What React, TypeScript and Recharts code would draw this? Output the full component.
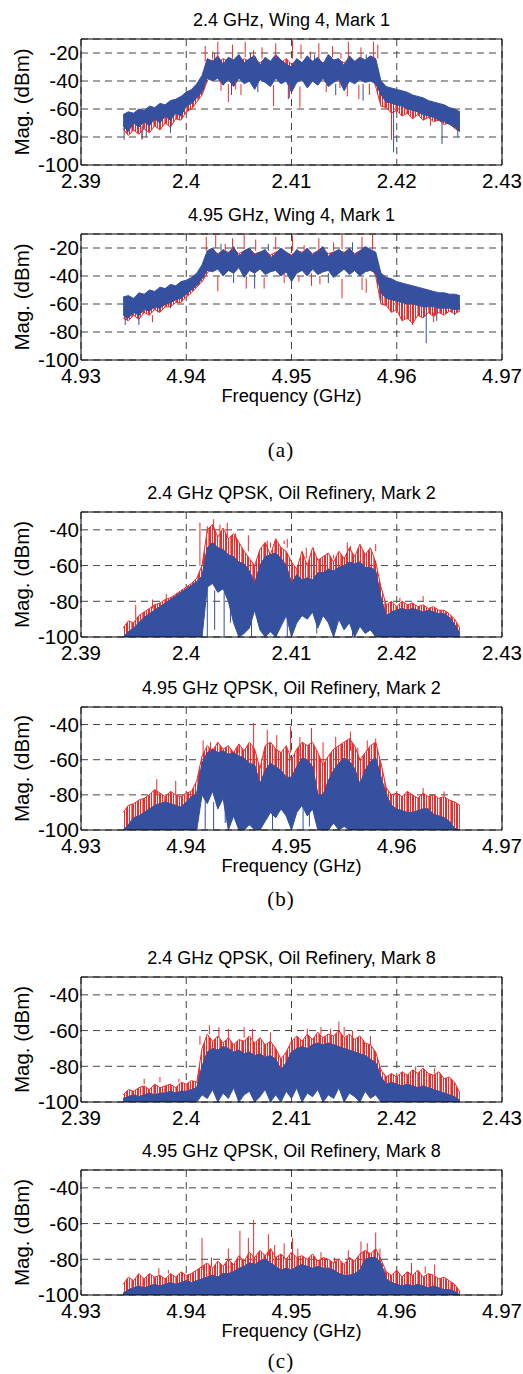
import React from "react";
import {
  ComposedChart,
  Area,
  XAxis,
  YAxis,
  CartesianGrid,
  ReferenceLine,
  ReferenceArea,
  Label,
} from "recharts";

const BLUE = "#34509f";
const RED = "#ee2b2b";
const SANS = '"Liberation Sans", Arial, Helvetica, sans-serif';
const SERIF = '"Liberation Serif", "Times New Roman", serif';

const PAGE_W = 523;
const PLOT_LEFT = 81;
const PLOT_RIGHT = 502;
const Y_AXIS_W = 60;
const TOP_PAD = 10;

// 0.5 MHz bins around the carrier (MHz)
const offsetsMHz = [
  -16, -15.5, -15, -14.5, -14, -13.5, -13, -12.5, -12, -11.5, -11, -10.5, -10,
  -9.5, -9, -8.5, -8, -7.5, -7, -6.5, -6, -5.5, -5, -4.5, -4, -3.5, -3, -2.5,
  -2, -1.5, -1, -0.5, 0, 0.5, 1, 1.5, 2, 2.5, 3, 3.5, 4, 4.5, 5, 5.5, 6, 6.5,
  7, 7.5, 8, 8.5, 9, 9.5, 10, 10.5, 11, 11.5, 12, 12.5, 13, 13.5, 14, 14.5,
  15, 15.5, 16,
];

const ticks24 = [2.39, 2.4, 2.41, 2.42, 2.43];
const ticks495 = [4.93, 4.94, 4.95, 4.96, 4.97];
const magTicksWing = [-100, -80, -60, -40, -20];
const magTicksQpsk = [-100, -80, -60, -40];

type Spike = [number, number, number]; // freq (GHz), from, to (dBm)

// ---- (a) 2.4 GHz, Wing 4, Mark 1
const p1BlueHi = [
  -64, -62, -63, -60, -61, -58, -59, -56, -57, -54, -53, -51, -48, -46, -42, -36, -24,
  -26, -22, -28, -23, -25, -21, -27, -24, -22, -29, -23, -26, -21, -25, -28,
  -30,
  -24, -27, -22, -26, -23, -28, -21, -25, -24, -29, -22, -26, -23, -25, -22,
  -24, -40, -44, -45, -46, -47, -48, -50, -51, -52, -54, -55, -56, -57, -59, -60, -62,
];
const p1BlueLo = [
  -72, -76, -70, -73, -69, -72, -67, -70, -65, -68, -63, -65, -58, -56, -52, -48, -38,
  -40, -38, -43, -39, -44, -38, -42, -40, -46, -39, -41, -44, -38, -42, -40,
  -48,
  -41, -39, -45, -40, -43, -38, -44, -41, -39, -47, -40, -42, -39, -41, -40,
  -42, -50, -55, -56, -57, -58, -60, -61, -62, -64, -65, -66, -68, -69, -71, -73, -76,
];
const p1RedHi = [
  -66, -64, -65, -63, -63, -61, -61, -59, -59, -57, -56, -55, -52, -50, -46, -40, -26,
  -25, -27, -24, -26, -25, -27, -24, -26, -25, -27, -24, -26, -25, -27, -24,
  -28,
  -25, -27, -24, -26, -25, -27, -24, -26, -25, -27, -24, -26, -25, -27, -24,
  -26, -44, -48, -49, -50, -51, -52, -53, -54, -55, -56, -57, -58, -59, -60, -62, -64,
];
const p1RedLo = [
  -74, -79, -75, -78, -74, -77, -72, -75, -70, -73, -67, -68, -62, -60, -55, -50, -40,
  -34, -34, -34, -34, -34, -34, -34, -34, -34, -34, -34, -34, -34, -34, -34,
  -34,
  -34, -34, -34, -34, -34, -34, -34, -34, -34, -34, -34, -34, -34, -34, -34,
  -44, -58, -59, -63, -61, -65, -63, -67, -64, -68, -66, -69, -68, -71, -70, -74, -76,
];
const p1RedSpikes: Spike[] = [
  [2.4018, -26, -15], [2.4025, -24, -19], [2.403, -24, -12], [2.4044, -24, -14],
  [2.4056, -23, -12], [2.4064, -24, -18], [2.4072, -24, -16], [2.4085, -24, -13],
  [2.4101, -24, -11], [2.4109, -24, -14], [2.4118, -24, -19], [2.4126, -24, -13],
  [2.4139, -23, -15], [2.4147, -24, -20], [2.4154, -24, -12], [2.4166, -24, -16],
  [2.4178, -24, -12], [2.4182, -24, -14],
  [2.4033, -40, -47], [2.404, -42, -55], [2.4047, -40, -46], [2.4052, -42, -50],
  [2.4083, -43, -58], [2.4098, -42, -52], [2.4108, -44, -59], [2.4133, -42, -48],
  [2.4146, -40, -45], [2.4153, -43, -51], [2.4164, -43, -53], [2.4174, -42, -50],
  [2.3958, -76, -82], [2.4195, -60, -82], [2.4232, -66, -72],
];
const p1BlueSpikes: Spike[] = [
  [2.3941, -70, -82], [2.3958, -72, -81], [2.3962, -70, -80], [2.3985, -66, -77],
  [2.4043, -40, -50], [2.4068, -42, -48], [2.4097, -44, -53], [2.4142, -42, -50],
  [2.4168, -42, -54], [2.4197, -55, -91], [2.4243, -68, -85], [2.4258, -74, -80],
  [2.4027, -26, -20], [2.4061, -26, -20], [2.4122, -26, -21], [2.4171, -26, -21],
];

// ---- (a) 4.95 GHz, Wing 4, Mark 1
const p2BlueHi = [
  -55, -54, -56, -52, -53, -50, -51, -48, -49, -46, -47, -44, -43, -41, -38, -32, -22,
  -20, -25, -21, -24, -19, -26, -22, -20, -25, -23, -21, -27, -24, -20, -23,
  -26,
  -21, -24, -20, -25, -22, -19, -26, -23, -21, -24, -20, -25, -22, -19, -21,
  -23, -38, -41, -42, -44, -45, -46, -47, -48, -49, -50, -51, -52, -52, -53, -53, -54,
];
const p2BlueLo = [
  -68, -70, -66, -68, -64, -65, -62, -63, -60, -59, -57, -56, -53, -50, -47, -42, -36,
  -37, -35, -40, -36, -38, -34, -41, -36, -38, -35, -39, -37, -36, -40, -37,
  -44,
  -38, -36, -40, -35, -39, -37, -36, -41, -38, -35, -39, -36, -40, -37, -36,
  -38, -52, -56, -57, -58, -59, -60, -60, -61, -62, -62, -62, -63, -63, -63, -64, -64,
];
const p2RedHi = [
  -57, -56, -58, -54, -55, -52, -53, -50, -51, -48, -49, -46, -45, -43, -40, -34, -24,
  -22, -24, -22, -23, -21, -24, -22, -21, -24, -23, -22, -25, -23, -21, -23,
  -25,
  -22, -23, -21, -24, -22, -21, -24, -23, -22, -23, -21, -24, -22, -21, -22,
  -24, -44, -50, -52, -54, -55, -56, -57, -57, -58, -58, -59, -59, -59, -60, -60, -60,
];
const p2RedLo = [
  -70, -72, -68, -71, -66, -68, -64, -66, -62, -62, -59, -59, -55, -52, -48, -44, -38,
  -32, -32, -32, -32, -32, -32, -32, -32, -32, -32, -32, -32, -32, -32, -32,
  -32,
  -32, -32, -32, -32, -32, -32, -32, -32, -32, -32, -32, -32, -32, -32, -32,
  -40, -60, -61, -66, -64, -72, -70, -74, -68, -70, -66, -69, -66, -68, -65, -67, -65,
];
const p2RedSpikes: Spike[] = [
  [4.9419, -22, -12], [4.9428, -20, -10], [4.9444, -22, -13], [4.9455, -21, -10],
  [4.9466, -22, -14], [4.9485, -21, -12], [4.9501, -22, -11], [4.9526, -22, -13],
  [4.9548, -21, -10], [4.9567, -21, -12], [4.9577, -21, -10], [4.9437, -22, -17],
  [4.9512, -22, -18], [4.954, -22, -16],
  [4.943, -40, -51], [4.9457, -40, -49], [4.9474, -41, -49], [4.9507, -40, -44],
  [4.9527, -40, -46], [4.9548, -42, -56], [4.9567, -41, -50], [4.9571, -42, -52],
  [4.9493, -38, -45], [4.9519, -38, -47],
  [4.9615, -68, -75], [4.9635, -66, -73], [4.9368, -68, -73],
];
const p2BlueSpikes: Spike[] = [
  [4.9342, -66, -75], [4.9355, -64, -75], [4.9373, -60, -66], [4.9385, -58, -63],
  [4.9445, -38, -45], [4.9465, -38, -49], [4.95, -40, -46], [4.9535, -38, -45],
  [4.9585, -42, -58], [4.9605, -56, -62], [4.9628, -62, -88], [4.9638, -62, -72],
  [4.9655, -63, -68], [4.9433, -22, -17], [4.9478, -22, -17], [4.9558, -22, -16],
];

// ---- (b) 2.4 GHz QPSK, Oil Refinery, Mark 2
const p3BlueHi = [
  -100, -97, -95, -92, -89, -87, -85, -83, -81, -79, -77, -75, -73, -71, -69, -66,
  -50, -47, -50, -51, -54, -55, -58, -59, -63, -70, -60, -55, -54, -53, -56, -60,
  -70, -65, -68, -67, -68, -64, -64, -62, -63, -61, -60, -58, -59, -58, -61, -61,
  -63, -78, -88, -86, -85, -84, -85, -84, -85, -86, -85, -86, -87, -87, -89, -93, -98,
];
const p3BlueLo = [
  -100, -100, -100, -100, -100, -100, -100, -100, -100, -100, -100, -100, -100, -100, -100, -100,
  -72, -70, -75, -73, -80, -92, -100, -98, -95, -85, -96, -100, -97, -100, -94, -88,
  -100, -92, -88, -90, -86, -95, -88, -92, -100, -90, -96, -92, -100, -94, -98, -96,
  -100, -100, -100, -100, -100, -100, -100, -100, -100, -100, -100, -100, -100, -100, -100, -100, -100,
];
const p3RedHi = [
  -95, -91, -92, -88, -86, -84, -82, -81, -79, -78, -76, -74, -72, -70, -67, -60,
  -40, -37, -44, -39, -45, -42, -47, -52, -56, -60, -51, -47, -54, -45, -50, -52,
  -58, -62, -52, -60, -50, -57, -55, -53, -58, -52, -56, -50, -55, -48, -54, -50,
  -58, -72, -82, -80, -83, -80, -82, -81, -83, -82, -84, -83, -85, -85, -87, -90, -95,
];
const p3RedSpikes: Spike[] = [
  [2.4013, -60, -36], [2.402, -42, -38], [2.4026, -40, -34], [2.4032, -42, -37],
  [2.4039, -44, -36], [2.4047, -46, -42], [2.4059, -52, -43], [2.4077, -52, -46],
  [2.408, -50, -47], [2.4093, -48, -46], [2.4096, -50, -45], [2.4114, -56, -50],
  [2.4121, -54, -50], [2.414, -56, -54], [2.4153, -52, -47], [2.4156, -52, -49],
  [2.418, -52, -48], [2.4203, -80, -78], [2.4225, -80, -77], [2.3952, -90, -82],
  [2.3968, -84, -79], [2.3981, -80, -76],
];
const p3BlueSpikes: Spike[] = [
  [2.402, -72, -100], [2.4027, -74, -96], [2.4036, -75, -100], [2.4042, -78, -92],
  [2.4062, -85, -100], [2.4096, -88, -100], [2.4124, -88, -98], [2.4158, -90, -100],
];

// ---- (b) 4.95 GHz QPSK, Oil Refinery, Mark 2
const p4BlueHi = [
  -100, -97, -93, -92, -90, -88, -86, -85, -84, -85, -86, -87, -84, -81, -79, -62,
  -56, -54, -56, -55, -57, -56, -58, -59, -62, -63, -74, -66, -62, -64, -66, -70,
  -70, -64, -59, -60, -64, -80, -80, -72, -66, -62, -59, -61, -65, -74, -66, -61,
  -59, -70, -80, -86, -88, -89, -90, -90, -89, -88, -88, -91, -92, -93, -95, -99, -100,
];
const p4BlueLo = [
  -100, -100, -100, -100, -100, -100, -100, -100, -100, -100, -100, -100, -100, -100, -100,
  -80, -85, -78, -88, -82, -100, -92, -100, -100, -97, -100, -100, -95, -90, -93, -88, -92,
  -100, -90, -86, -92, -88, -100, -100, -100, -96, -100, -98, -100, -100, -100, -100, -100, -100,
  -100, -100, -100, -100, -100, -100, -100, -100, -100, -100, -100, -100, -100, -100, -100, -100,
];
const p4RedHi = [
  -90, -86, -85, -83, -82, -80, -77, -79, -81, -78, -80, -81, -79, -78, -72, -58,
  -52, -55, -50, -54, -52, -56, -51, -55, -50, -54, -65, -52, -50, -54, -56, -52,
  -60, -54, -50, -52, -50, -56, -63, -58, -54, -52, -50, -48, -52, -60, -56, -52,
  -50, -62, -76, -80, -79, -81, -78, -80, -82, -79, -81, -80, -82, -81, -83, -84, -86,
];
const p4RedSpikes: Spike[] = [
  [4.9416, -58, -49], [4.9423, -56, -50], [4.945, -56, -52], [4.9464, -55, -39],
  [4.9477, -55, -43], [4.9486, -56, -46], [4.9499, -56, -41], [4.9508, -58, -47],
  [4.9519, -56, -42], [4.953, -62, -50], [4.9542, -56, -47], [4.9556, -55, -44],
  [4.9563, -60, -53], [4.9572, -55, -49], [4.958, -56, -48], [4.9372, -80, -71],
  [4.939, -80, -72], [4.9625, -80, -76], [4.9645, -81, -78],
];
const p4BlueSpikes: Spike[] = [
  [4.9418, -80, -100], [4.9426, -84, -100], [4.9437, -82, -96], [4.9466, -88, -100],
  [4.9482, -90, -100], [4.9511, -86, -100], [4.9517, -88, -98],
];

// ---- (c) 2.4 GHz QPSK, Oil Refinery, Mark 8
const p5BlueHi = [
  -98, -97, -96, -97, -96, -95, -96, -95, -95, -94, -95, -94, -94, -93, -92, -80,
  -72, -70, -71, -69, -70, -72, -71, -73, -72, -74, -73, -75, -74, -76, -82, -78,
  -72, -70, -69, -70, -68, -67, -68, -67, -68, -69, -70, -71, -72, -73, -74, -76,
  -78, -86, -90, -89, -90, -91, -90, -91, -92, -91, -92, -93, -94, -95, -96, -97, -99,
];
const p5BlueLo = [
  -100, -100, -100, -100, -100, -100, -100, -100, -100, -100, -100, -100, -100, -100, -100,
  -96, -98, -93, -100, -95, -98, -92, -100, -96, -94, -100, -97, -93, -100, -96, -100, -94,
  -98, -92, -100, -95, -97, -93, -100, -96, -98, -92, -100, -95, -97, -100, -94, -98, -96,
  -100, -100, -100, -100, -100, -100, -100, -100, -100, -100, -100, -100, -100, -100, -100, -100,
];
const p5RedHi = [
  -96, -93, -94, -92, -91, -93, -90, -92, -91, -90, -92, -89, -90, -88, -89, -70,
  -62, -66, -63, -67, -64, -68, -65, -66, -63, -67, -64, -68, -66, -70, -76, -72,
  -66, -63, -66, -62, -65, -61, -64, -62, -63, -60, -64, -62, -65, -63, -67, -68,
  -72, -82, -86, -84, -86, -83, -85, -82, -84, -81, -84, -85, -83, -87, -86, -89, -95,
];
const p5RedSpikes: Spike[] = [
  [2.4013, -68, -63], [2.4022, -62, -57], [2.4031, -64, -58], [2.404, -66, -59],
  [2.4055, -64, -58], [2.4063, -65, -59], [2.408, -68, -61], [2.4115, -64, -59],
  [2.4128, -62, -58], [2.4137, -62, -59], [2.4145, -62, -55], [2.415, -63, -58],
  [2.4158, -64, -60], [2.4175, -68, -63], [2.4218, -84, -80], [2.4236, -84, -81],
  [2.396, -90, -87], [2.3975, -89, -86], [2.3993, -89, -87],
];

// ---- (c) 4.95 GHz QPSK, Oil Refinery, Mark 8
const p6BlueHi = [
  -99, -97, -96, -95, -96, -95, -94, -95, -94, -93, -94, -93, -92, -93, -92, -91,
  -90, -89, -90, -88, -88, -87, -85, -84, -82, -83, -81, -80, -82, -84, -86, -85,
  -86, -84, -83, -84, -85, -84, -85, -85, -86, -88, -89, -89, -88, -86, -80, -79,
  -79, -82, -91, -93, -94, -95, -94, -95, -94, -95, -96, -95, -96, -97, -97, -98, -100,
];
const p6RedHi = [
  -94, -90, -92, -88, -91, -88, -90, -89, -91, -88, -90, -87, -89, -88, -86, -84,
  -82, -85, -81, -84, -80, -83, -78, -81, -76, -79, -75, -78, -74, -79, -77, -80,
  -76, -79, -78, -80, -77, -81, -79, -80, -82, -80, -83, -79, -81, -77, -75, -77,
  -74, -80, -87, -89, -86, -90, -87, -89, -86, -90, -88, -89, -91, -90, -92, -94, -98,
];
const p6RedSpikes: Spike[] = [
  [4.9415, -86, -68], [4.9424, -84, -79], [4.944, -83, -74], [4.9451, -80, -64],
  [4.9459, -79, -68], [4.9464, -78, -58], [4.9478, -78, -66], [4.9484, -79, -72],
  [4.9493, -80, -71], [4.9501, -79, -68], [4.9506, -80, -74], [4.9528, -80, -76],
  [4.9541, -82, -79], [4.9554, -80, -75], [4.9566, -77, -70], [4.9572, -77, -71],
  [4.958, -76, -65], [4.9584, -80, -74], [4.9374, -89, -85], [4.9383, -88, -86],
  [4.9614, -89, -82], [4.9627, -88, -84], [4.9636, -89, -83],
];

interface PanelProps {
  id: string;
  title: string;
  carrier: number;
  xTicks: number[];
  yTicks: number[];
  yTop: number;
  blueHi: number[];
  blueLo?: number[];
  redHi: number[];
  redLo?: number[];
  redSpikes: Spike[];
  blueSpikes?: Spike[];
  plotTop: number;
  plotH: number;
  showXLabel?: boolean;
}

function Panel({
  id,
  title,
  carrier,
  xTicks,
  yTicks,
  yTop,
  blueHi,
  blueLo,
  redHi,
  redLo,
  redSpikes,
  blueSpikes = [],
  plotTop,
  plotH,
  showXLabel = false,
}: PanelProps) {
  // red band sits on top of the blue trace when no lower edge is given
  const rows = offsetsMHz.map((o, i) => ({
    f: carrier + o / 1000,
    blue: [blueLo ? blueLo[i] : -100, blueHi[i]],
    red: [redLo ? redLo[i] : blueHi[i], redHi[i]],
  }));
  const xAxisH = showXLabel ? 50 : 30;
  const midX = (PLOT_LEFT + PLOT_RIGHT) / 2;
  const midY = TOP_PAD + plotH / 2;
  const redFill = `red-${id}`;

  return (
    <>
      <div
        style={{
          position: "absolute",
          left: PLOT_LEFT,
          width: PLOT_RIGHT - PLOT_LEFT,
          top: plotTop - 19.5 - 8.8,
          fontFamily: SANS,
          fontSize: 18,
          lineHeight: "18px",
          textAlign: "center",
          color: "#000",
          whiteSpace: "nowrap",
        }}
      >
        {title}
      </div>
      <div style={{ position: "absolute", left: 0, top: plotTop - TOP_PAD }}>
        <ComposedChart
          width={PAGE_W}
          height={TOP_PAD + plotH + xAxisH}
          data={rows}
          margin={{
            top: TOP_PAD,
            right: PAGE_W - PLOT_RIGHT,
            bottom: 0,
            left: PLOT_LEFT - Y_AXIS_W,
          }}
        >
          <defs>
            {/* dense trace look: irregular thin vertical strokes */}
            <pattern id={redFill} width="11" height="4" patternUnits="userSpaceOnUse">
              <rect x="0" y="0" width="2" height="4" fill={RED} />
              <rect x="3" y="0" width="1" height="4" fill={RED} />
              <rect x="5" y="0" width="2" height="4" fill={RED} />
              <rect x="8" y="0" width="1" height="4" fill={RED} />
              <rect x="10" y="0" width="1" height="4" fill="#f27a7a" />
            </pattern>
          </defs>
          <CartesianGrid stroke="#444" strokeDasharray="7 5" />
          <XAxis
            dataKey="f"
            type="number"
            domain={[xTicks[0], xTicks[xTicks.length - 1]]}
            ticks={xTicks}
            interval={0}
            allowDataOverflow
            axisLine={false}
            tickLine={false}
            height={xAxisH}
            tick={{ fontSize: 20.5, fill: "#000", fontFamily: SANS }}
          >
            {showXLabel && (
              <Label
                content={() => (
                  <text
                    x={midX}
                    y={TOP_PAD + plotH + 41.5}
                    textAnchor="middle"
                    fontSize={18.3}
                    fontFamily={SANS}
                    fill="#000"
                  >
                    Frequency (GHz)
                  </text>
                )}
              />
            )}
          </XAxis>
          <YAxis
            type="number"
            domain={[-100, yTop]}
            ticks={yTicks}
            interval={0}
            allowDataOverflow
            width={Y_AXIS_W}
            axisLine={false}
            tickLine={false}
            tickSize={0}
            tickMargin={2}
            tick={{ fontSize: 20.5, fill: "#000", fontFamily: SANS }}
          >
            <Label
              content={() => (
                <text
                  x={29}
                  y={midY}
                  transform={`rotate(-90 29 ${midY})`}
                  textAnchor="middle"
                  fontSize={20.5}
                  fontFamily={SANS}
                  fill="#000"
                >
                  Mag. (dBm)
                </text>
              )}
            />
          </YAxis>
          <Area
            dataKey="red"
            type="linear"
            stroke={RED}
            strokeWidth={1}
            fill={`url(#${redFill})`}
            fillOpacity={1}
            dot={false}
            activeDot={false}
            isAnimationActive={false}
          />
          <Area
            dataKey="blue"
            type="linear"
            stroke={BLUE}
            strokeWidth={1}
            fill={BLUE}
            fillOpacity={1}
            dot={false}
            activeDot={false}
            isAnimationActive={false}
          />
          {redSpikes.map(([f, a, b], k) => (
            <ReferenceLine
              key={`r${k}`}
              segment={[
                { x: f, y: a },
                { x: f, y: b },
              ]}
              stroke={RED}
              strokeWidth={1}
            />
          ))}
          {blueSpikes.map(([f, a, b], k) => (
            <ReferenceLine
              key={`b${k}`}
              segment={[
                { x: f, y: a },
                { x: f, y: b },
              ]}
              stroke={BLUE}
              strokeWidth={1}
            />
          ))}
          <ReferenceArea
            x1={xTicks[0]}
            x2={xTicks[xTicks.length - 1]}
            y1={-100}
            y2={yTop}
            fill="none"
            fillOpacity={0}
            stroke="#000"
            strokeWidth={1}
            ifOverflow="visible"
          />
        </ComposedChart>
      </div>
    </>
  );
}

function Caption({ text, y }: { text: string; y: number }) {
  return (
    <div
      style={{
        position: "absolute",
        left: 181,
        width: 200,
        top: y - 12.2,
        fontFamily: SERIF,
        fontSize: 21,
        lineHeight: "21px",
        letterSpacing: 1,
        textAlign: "center",
        color: "#000",
      }}
    >
      {text}
    </div>
  );
}

export default function App() {
  return (
    <div
      style={{
        position: "absolute",
        left: 0,
        top: 0,
        width: PAGE_W,
        height: 1374,
        background: "#fff",
        overflow: "hidden",
      }}
    >
      <Panel
        id="p1"
        title="2.4 GHz, Wing 4, Mark 1"
        carrier={2.41}
        xTicks={ticks24}
        yTicks={magTicksWing}
        yTop={-10}
        blueHi={p1BlueHi}
        blueLo={p1BlueLo}
        redHi={p1RedHi}
        redLo={p1RedLo}
        redSpikes={p1RedSpikes}
        blueSpikes={p1BlueSpikes}
        plotTop={39}
        plotH={126}
      />
      <Panel
        id="p2"
        title="4.95 GHz, Wing 4, Mark 1"
        carrier={4.95}
        xTicks={ticks495}
        yTicks={magTicksWing}
        yTop={-10}
        blueHi={p2BlueHi}
        blueLo={p2BlueLo}
        redHi={p2RedHi}
        redLo={p2RedLo}
        redSpikes={p2RedSpikes}
        blueSpikes={p2BlueSpikes}
        plotTop={234}
        plotH={126}
        showXLabel
      />
      <Caption text="(a)" y={452} />
      <Panel
        id="p3"
        title="2.4 GHz QPSK, Oil Refinery, Mark 2"
        carrier={2.41}
        xTicks={ticks24}
        yTicks={magTicksQpsk}
        yTop={-30}
        blueHi={p3BlueHi}
        blueLo={p3BlueLo}
        redHi={p3RedHi}
        redSpikes={p3RedSpikes}
        blueSpikes={p3BlueSpikes}
        plotTop={512}
        plotH={125}
      />
      <Panel
        id="p4"
        title="4.95 GHz QPSK, Oil Refinery, Mark 2"
        carrier={4.95}
        xTicks={ticks495}
        yTicks={magTicksQpsk}
        yTop={-30}
        blueHi={p4BlueHi}
        blueLo={p4BlueLo}
        redHi={p4RedHi}
        redSpikes={p4RedSpikes}
        blueSpikes={p4BlueSpikes}
        plotTop={707}
        plotH={123}
        showXLabel
      />
      <Caption text="(b)" y={901} />
      <Panel
        id="p5"
        title="2.4 GHz QPSK, Oil Refinery, Mark 8"
        carrier={2.41}
        xTicks={ticks24}
        yTicks={magTicksQpsk}
        yTop={-30}
        blueHi={p5BlueHi}
        blueLo={p5BlueLo}
        redHi={p5RedHi}
        redSpikes={p5RedSpikes}
        plotTop={977}
        plotH={125}
      />
      <Panel
        id="p6"
        title="4.95 GHz QPSK, Oil Refinery, Mark 8"
        carrier={4.95}
        xTicks={ticks495}
        yTicks={magTicksQpsk}
        yTop={-30}
        blueHi={p6BlueHi}
        redHi={p6RedHi}
        redSpikes={p6RedSpikes}
        plotTop={1170}
        plotH={125}
        showXLabel
      />
      <Caption text="(c)" y={1363} />
    </div>
  );
}
